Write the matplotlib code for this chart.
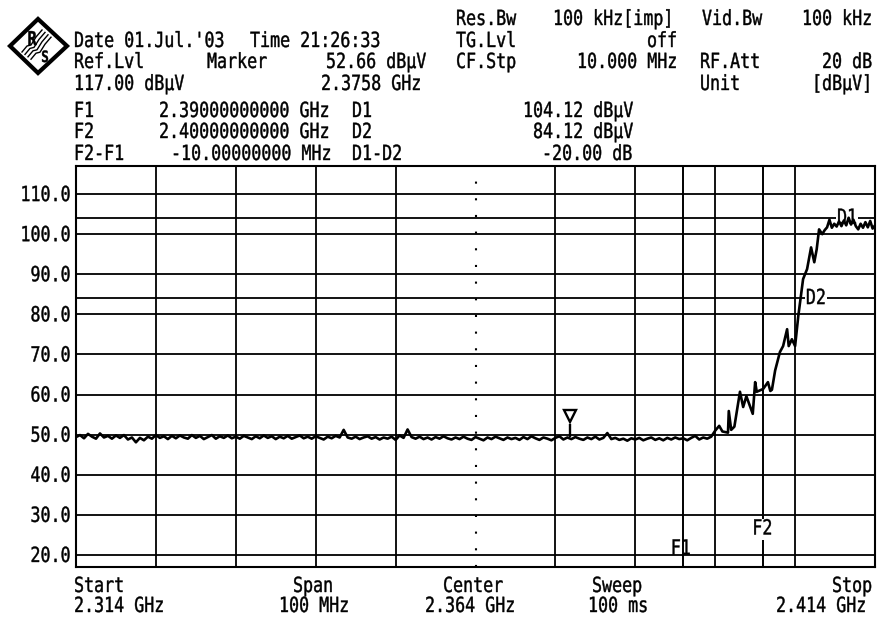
import numpy as np
import matplotlib
matplotlib.use("Agg")
import matplotlib.pyplot as plt
from matplotlib.patheffects import AbstractPathEffect
from matplotlib.text import Text
from matplotlib.transforms import Affine2D

plt.rcParams['font.family'] = ['DejaVu Sans Mono']
plt.rcParams['font.size'] = 12

start_ghz = 2.314
stop_ghz = 2.414
f1_ghz = 2.39
f2_ghz = 2.40
d1_level = 104.12
d2_level = 84.12
marker_ghz = 2.3758
marker_level = 52.66
ref_level = 117.0
bottom_level = 17.0
level_ticks = [20, 30, 40, 50, 60, 70, 80, 90, 100, 110]

# noise floor, one reading every 0.5 MHz from the start frequency
floor_step = 0.0005
floor_levels = [
    49.4, 49.9, 49.1, 50.2, 49.5, 49.0, 50.3, 49.3, 49.7, 49.0,
    49.8, 49.2, 49.9, 48.8, 49.3, 48.1, 49.2, 48.6, 49.5, 49.0,
    49.9, 49.2, 49.6, 48.9, 49.7, 49.1, 49.8, 49.3, 49.0, 49.9,
    49.2, 49.7, 48.9, 49.4, 49.9, 49.0, 49.6, 49.2, 49.8, 49.1,
    49.5, 49.0, 49.7, 49.3, 48.9, 49.6, 49.1, 49.8, 49.2, 49.6,
    48.9, 49.5, 49.1, 49.7, 49.0, 49.4, 49.8, 49.1, 49.5, 49.0,
    49.6, 49.2, 48.8, 49.5, 49.1, 49.7, 49.3, 51.2, 49.3, 49.0,
    49.5, 48.9, 49.3, 49.6, 49.0, 49.4, 48.8, 49.3, 49.0, 49.5,
    48.7, 49.8, 49.2, 51.3, 49.4, 49.0, 49.5, 48.9, 49.3, 48.8,
    49.4, 49.0, 49.6, 49.1, 48.8, 49.3, 48.9, 49.5, 49.0, 48.7,
    49.4, 49.0, 48.6, 49.3, 48.9, 49.5, 49.1, 48.7, 49.3, 48.9,
    49.2, 48.7, 49.4, 48.9, 49.6, 49.1, 48.7, 49.3, 49.0, 48.6,
    49.2, 49.6, 48.8, 49.3, 48.9, 49.4, 49.0, 48.7, 49.3, 48.9,
    49.5, 48.8, 49.2, 50.4, 48.9, 49.2, 48.7, 49.0, 48.5, 49.1,
    48.8, 49.2, 48.6, 49.0, 49.3, 48.7, 49.1, 48.6, 49.2, 48.8,
    49.3, 48.9, 49.1, 48.6, 49.2, 49.7, 48.8, 49.3, 49.0, 49.5,
]

# skirt and top of the carrier, read point by point
rise_freqs = [
    2.3940, 2.3945, 2.3949, 2.3956, 2.3957, 2.3960, 2.3964, 2.3971, 2.3975,
    2.3979, 2.3987, 2.3990, 2.3992, 2.4000, 2.4006, 2.4009, 2.4011, 2.4015,
    2.4021, 2.4025, 2.4030, 2.4032, 2.4036, 2.4040, 2.4044, 2.4050, 2.4055,
    2.4060, 2.4064, 2.4067, 2.4070, 2.4074, 2.4077, 2.4080, 2.4083, 2.4086,
    2.4089, 2.4092, 2.4095, 2.4098, 2.4101, 2.4104, 2.4107, 2.4110, 2.4113,
    2.4116, 2.4119, 2.4122, 2.4125, 2.4128, 2.4131, 2.4134, 2.4137, 2.4140,
]
rise_levels = [
    51.0, 52.2, 50.8, 50.5, 55.9, 51.2, 52.0, 60.7, 56.9,
    59.6, 55.2, 63.1, 60.7, 61.4, 63.1, 60.9, 61.2, 66.0,
    70.6, 72.1, 76.3, 72.1, 73.8, 72.1, 79.6, 88.8, 91.3,
    96.7, 93.0, 96.2, 101.2, 100.0, 101.0, 101.7, 103.6, 101.6,
    102.6, 101.9, 103.2, 102.0, 103.4, 102.2, 104.1, 102.4, 103.6,
    102.0, 101.2, 102.6, 101.6, 103.0, 101.7, 103.3, 101.4, 102.2,
]

freq_ticks = [2.324, 2.334, 2.344, 2.354, 2.374, 2.384, 2.394, 2.404]

header_left = [
    ("Date 01.Jul.'03", 74, 47), ("Time 21:26:33", 250, 47),
    ("Ref.Lvl", 74, 68), ("Marker", 207, 68), ("117.00 dBµV", 74, 90),
    ("F1", 74, 117), ("2.39000000000 GHz", 159, 117), ("D1", 352, 117),
    ("F2", 74, 138), ("2.40000000000 GHz", 159, 138), ("D2", 352, 138),
    ("F2-F1", 74, 160), ("-10.00000000 MHz", 171, 160), ("D1-D2", 352, 160),
    ("Res.Bw", 456, 25), ("TG.Lvl", 456, 47), ("CF.Stp", 456, 68),
    ("Vid.Bw", 702, 25), ("RF.Att", 700, 68), ("Unit", 700, 90),
    ("Start", 74, 592), ("2.314 GHz", 74, 612),
    ("Span", 293, 592), ("100 MHz", 279, 612),
    ("Center", 443, 592), ("2.364 GHz", 425, 612),
    ("Sweep", 592, 592), ("100 ms", 588, 612),
]
header_right = [
    ("52.66 dBµV", 426, 68), ("2.3758 GHz", 421, 90),
    ("100 kHz[imp]", 673, 25), ("off", 677, 47), ("10.000 MHz", 677, 68),
    ("100 kHz", 872, 25), ("20 dB", 872, 68), ("[dBµV]", 872, 90),
    ("104.12 dBµV", 633, 117), ("84.12 dBµV", 633, 138), ("-20.00 dB", 632, 160),
    ("Stop", 872, 592), ("2.414 GHz", 866, 612),
]


class TallText(AbstractPathEffect):
    # the analyzer font is narrow and tall, so stretch the glyphs upward
    def draw_path(self, renderer, gc, tpath, affine, rgbFace=None):
        gc0 = renderer.new_gc()
        gc0.copy_properties(gc)
        gc0.set_linewidth(0.3)
        gc0.set_foreground('black')
        renderer.draw_path(gc0, tpath, Affine2D().scale(1, 1.25) + affine, rgbFace)
        gc0.restore()


fig = plt.figure(figsize=(8.77, 6.18), dpi=100)
ax = fig.add_axes([76 / 877, 1 - 567 / 618, 799 / 877, 401 / 618])
ax.set_xlim(start_ghz, stop_ghz)
ax.set_ylim(bottom_level, ref_level)

ax.set_xticks(freq_ticks)
ax.set_xticklabels([])
ax.set_yticks(level_ticks)
ax.set_yticklabels(["%.1f" % v for v in level_ticks], fontsize=12)
ax.tick_params(length=0, pad=4)
ax.grid(True, color='black', lw=1.3)
ax.set_axisbelow(True)
for spine in ax.spines.values():
    spine.set_linewidth(1.5)

ax.axvline(start_ghz + (stop_ghz - start_ghz) / 2, color='black', lw=1.5, ls=(0, (1, 7)), zorder=1)
for f in (f1_ghz, f2_ghz):
    ax.axvline(f, color='black', lw=1.4, zorder=1)
for level in (d1_level, d2_level):
    ax.axhline(level, color='black', lw=1.3, zorder=1)

white = dict(facecolor='white', edgecolor='none', pad=1)
ax.text(2.3897, 20.1, "F1", ha='center', va='baseline', zorder=2)
ax.text(2.3999, 25.1, "F2", ha='center', va='baseline', bbox=white, zorder=2)
ax.text(2.4105, d1_level - 0.3, "D1", ha='center', va='center', bbox=white, zorder=2)
ax.text(2.4066, d2_level - 0.3, "D2", ha='center', va='center', bbox=white, zorder=2)

floor_freqs = start_ghz + floor_step * np.arange(len(floor_levels))
ax.plot(list(floor_freqs) + rise_freqs, floor_levels + rise_levels, color='black', lw=1.9, zorder=3)
ax.vlines(marker_ghz, 49.3, marker_level, color='black', lw=1.7, zorder=3)
ax.plot([marker_ghz], [marker_level + 2.1], marker='v', ms=9, mfc='white', mec='black', mew=1.7, zorder=4)

# overlay in picture pixels for the instrument header and the logo
ov = fig.add_axes([0, 0, 1, 1])
ov.set_xlim(0, 877)
ov.set_ylim(618, 0)
ov.axis('off')
ov.patch.set_alpha(0)

for s, x, y in header_left:
    ov.text(x, y, s, ha='left', va='baseline')
for s, x, y in header_right:
    ov.text(x, y, s, ha='right', va='baseline')

ov.fill([10, 38, 67, 38], [46, 19, 46, 73], facecolor='white', edgecolor='black', lw=3)
ov.text(32, 45, "R", ha='center', va='baseline', fontsize=11, fontweight='bold')
ov.text(45, 62, "S", ha='center', va='baseline', fontsize=9, fontweight='bold')
for off in (0, 3, 6, 9):
    ov.plot([22 + off, 27 + off, 31 + off, 36 + off, 42 + off],
            [52 + off * 0.8, 46 + off * 0.8, 45 + off * 0.8, 37 + off * 0.8, 30 + off * 0.8],
            color='black', lw=1.0)

for t in fig.findobj(Text):
    t.set_path_effects([TallText()])

fig.savefig("out.png", dpi=100)
